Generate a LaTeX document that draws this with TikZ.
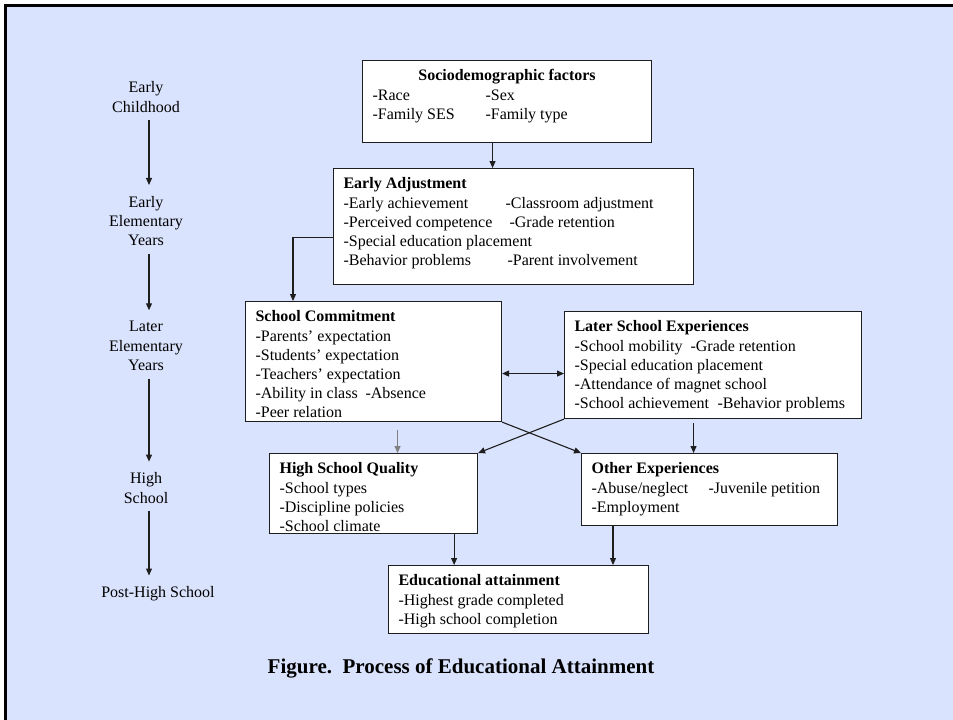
\documentclass[tikz,border=0pt]{standalone}
\usepackage{fontspec}
\setmainfont{Liberation Serif}
\usetikzlibrary{positioning,arrows.meta}
\definecolor{slideblue}{RGB}{218,227,253}
\definecolor{boxline}{RGB}{30,30,30}
\newcommand{\bodysize}{\fontsize{16}{19.2}\selectfont}

\begin{document}
\begin{tikzpicture}[x=1pt,y=-1pt,>={Triangle[length=7pt,width=6pt]},
  stagebox/.style={draw=boxline,line width=1.1pt,fill=white,anchor=north west,
    inner xsep=10pt,inner ysep=7pt,font=\bodysize},
  period/.style={align=center,inner sep=3pt,font=\bodysize},
  link/.style={->,line width=1.1pt,draw=boxline}]
\useasboundingbox (0,0) rectangle (953,720);
\fill[white] (0,0) rectangle (953,720);
\fill[slideblue] (7,7) rectangle (953,720);
\draw[line width=3pt] (5.5,720) -- (5.5,5.5) -- (953,5.5);

% time line on the left
\node[period] (early) at (146,97) {Early\\Childhood};
\node[period] (elem) at (146,221) {Early\\Elementary\\Years};
\node[period] (later) at (146,346) {Later\\Elementary\\Years};
\node[period] (high) at (146,488) {High\\School};
\node[period] (post) at (158,594) {Post-High School};
\foreach \a/\b in {early/elem,elem/later,later/high,high/post}
  \draw[link,shorten <=5pt,shorten >=8pt] ([xshift=3pt]\a.south) -- ([xshift=3pt]\a.south |- \b.north);

% boxes
\node[stagebox] (socio) at (362,60) {\parbox[c][68pt][t]{269pt}{\centering\strut\textbf{Sociodemographic factors}\par
  \raggedright\makebox[113pt][l]{-Race}-Sex\\
  \makebox[113pt][l]{-Family SES}-Family type}};
\node[stagebox] (ea) at (333,168) {\parbox[c][102pt][t]{340pt}{\strut\textbf{Early Adjustment}\\
  \makebox[162pt][l]{-Early achievement}-Classroom adjustment\\
  \makebox[166pt][l]{-Perceived competence}-Grade retention\\
  -Special education placement\\
  \makebox[164pt][l]{-Behavior problems}-Parent involvement}};
\node[stagebox] (sc) at (245,301) {\parbox[c][106pt][t]{236pt}{\strut\textbf{School Commitment}\\
  -Parents' expectation\\
  -Students' expectation\\
  -Teachers' expectation\\
  \makebox[110pt][l]{-Ability in class}-Absence\\
  -Peer relation}};
\node[stagebox] (lse) at (564,311) {\parbox[c][93pt][t]{277pt}{\strut\textbf{Later School Experiences}\\
  \makebox[116pt][l]{-School mobility}-Grade retention\\
  -Special education placement\\
  -Attendance of magnet school\\
  \makebox[143pt][l]{-School achievement}-Behavior problems}};
\node[stagebox] (hsq) at (269,453) {\parbox[c][66pt][t]{188pt}{\strut\textbf{High School Quality}\\
  -School types\\
  -Discipline policies\\
  -School climate}};
\node[stagebox] (other) at (581,453) {\parbox[c][58pt][t]{236pt}{\strut\textbf{Other Experiences}\\
  \makebox[117pt][l]{-Abuse/neglect}-Juvenile petition\\
  -Employment}};
\node[stagebox] (educ) at (388,565) {\parbox[c][54pt][t]{240pt}{\strut\textbf{Educational attainment}\\
  -Highest grade completed\\
  -High school completion}};

% connectors
\draw[link] ([xshift=-14.5pt]socio.south) -- ([xshift=-14.5pt]socio.south |- ea.north);
\draw[link] ([yshift=-11pt]ea.west) -| ([xshift=48pt]sc.north west);
\draw[link,<->] ([yshift=-12pt]sc.east) -- ([yshift=-12pt]sc.east -| lse.west);
\draw[link,draw=gray] ([xshift=24pt,yshift=-8pt]sc.south) -- ([xshift=24pt]hsq.north);
\draw[link] (sc.south east) -- (other.north west);
\draw[link] (lse.south west) -- (hsq.north east);
\draw[link] ([xshift=-19.5pt,yshift=-4pt]lse.south) -- ([xshift=-19.5pt]lse.south |- other.north);
\draw[link] ([xshift=-24pt]hsq.south east) -- ([xshift=-24pt]hsq.south east |- educ.north);
\draw[link] ([xshift=32pt]other.south west) -- ([xshift=32pt]other.south west |- educ.north);

\node[font=\fontsize{21}{25}\selectfont\bfseries] (caption) at (461,668) {Figure.\ \ Process of Educational Attainment};
\end{tikzpicture}
\end{document}
